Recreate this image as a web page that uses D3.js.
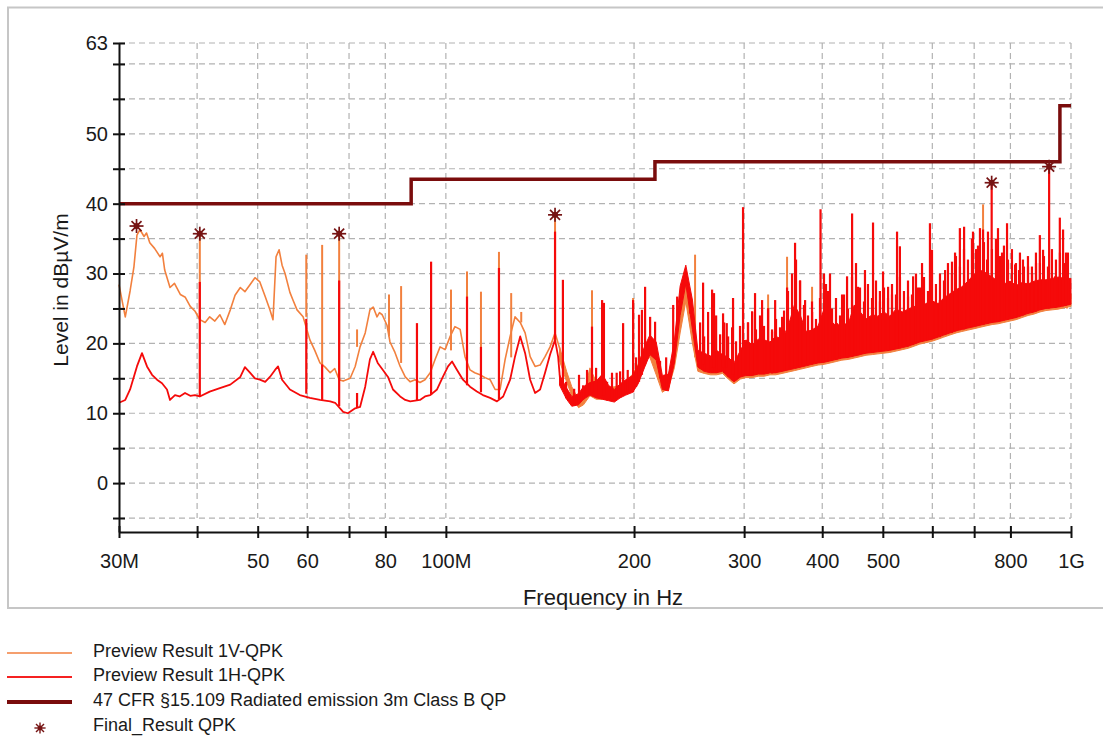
<!DOCTYPE html>
<html><head><meta charset="utf-8">
<script src="https://cdn.jsdelivr.net/npm/d3@7"></script>
<style>
html,body{margin:0;padding:0;background:#fff;}
svg{display:block;}
text{font-family:Arial,"Liberation Sans",sans-serif;fill:#1a1a1a;}
</style>
</head><body>
<svg id="c" width="1103" height="746"></svg>
<script>
// ---------- DATA ----------
const xTicks = [30,40,50,60,70,80,100,200,300,400,500,600,700,800,1000];
const xTickLabels = {30:"30M",50:"50",60:"60",80:"80",100:"100M",200:"200",300:"300",400:"400",500:"500",800:"800",1000:"1G"};
const yTicks = [-5,0,5,10,15,20,25,30,35,40,45,50,55,60,63];
const yTickLabels = [0,10,20,30,40,50,63];

// Vertical polarisation preview (MHz, dBµV/m), 30–152 MHz
const vTrace = [[30,28.4],[30.7,23.8],[31.25,27.5],[31.7,31.0],[32.05,35.5],[32.4,36.3],[32.9,35.3],[33.2,35.8],[33.6,34.4],[34.2,33.6],[34.9,32.4],[35.2,32.9],[35.5,30.5],[36.2,28.0],[36.8,28.6],[37.6,27.0],[38.3,26.6],[39.0,25.3],[39.7,24.6],[40.4,23.4],[41.2,23.0],[41.9,23.8],[42.7,23.2],[43.5,24.1],[44.3,22.7],[45.2,24.8],[46.0,26.9],[46.9,28.0],[47.7,27.4],[48.6,28.4],[49.5,29.4],[50.4,28.8],[51.4,26.7],[52.3,24.8],[52.9,23.4],[53.5,32.4],[54.1,33.4],[54.7,31.2],[55.3,30.0],[56.3,27.3],[57.0,26.1],[57.8,24.8],[59.1,23.8],[60.6,20.5],[61.7,19.0],[62.9,17.2],[64.1,16.6],[65.3,15.8],[66.4,16.4],[67.5,14.8],[68.5,14.6],[70.3,15.0],[71.6,16.7],[72.9,19.5],[74.3,21.5],[75.6,24.8],[76.5,25.2],[77.6,23.8],[78.3,24.4],[79.1,24.1],[80.5,22.6],[81.4,20.2],[82.9,18.7],[84.5,16.7],[86.1,15.2],[87.7,14.5],[89.3,14.8],[90.9,14.4],[92.6,14.8],[94.4,15.8],[96.1,17.7],[97.9,19.5],[99.7,19.1],[101.6,21.0],[103.4,22.4],[105.4,22.0],[107.3,18.1],[109.3,16.2],[111.2,15.8],[113.4,15.5],[115.5,15.1],[117.7,14.8],[119.9,13.4],[122.1,13.4],[124.4,17.7],[126.7,21.0],[129.0,23.8],[131.5,23.0],[133.9,21.5],[136.4,18.1],[138.9,16.7],[141.5,16.9],[144.1,18.1],[146.8,19.5],[149.5,21.5],[152.3,19.1]];

// Horizontal polarisation preview (MHz, dBµV/m), 30–152 MHz
const hTrace = [[30,11.5],[30.7,11.9],[31.25,13.4],[32.05,16.7],[32.65,18.6],[33.26,16.7],[33.88,15.5],[34.51,14.8],[35.15,14.3],[35.8,13.4],[36.2,11.9],[36.87,12.6],[37.5,12.4],[38.26,12.9],[39.0,12.5],[39.69,12.6],[40.4,12.4],[41.9,13.1],[43.5,13.6],[45.2,14.1],[46.9,15.2],[47.7,16.6],[48.6,15.8],[49.5,15.0],[50.4,14.8],[51.4,14.5],[52.3,15.2],[53.3,16.2],[53.9,16.7],[54.7,14.8],[56.3,13.4],[58.4,12.6],[60.6,12.2],[62.9,11.9],[65.3,11.7],[66.5,11.5],[68.5,10.2],[69.7,10.0],[71.6,10.7],[72.9,10.9],[74.3,13.8],[75.6,17.7],[76.5,18.8],[77.8,17.2],[79.3,16.2],[80.8,15.2],[82.3,13.4],[84.5,12.4],[86.1,11.9],[87.7,11.7],[90.9,11.9],[92.6,12.4],[94.4,12.6],[96.8,13.4],[98.9,15.2],[100.8,16.7],[102.3,17.4],[104.2,16.2],[106.5,14.8],[109.3,13.8],[112.1,13.1],[114.6,12.6],[117.7,12.2],[120.7,11.7],[123.5,12.4],[126.7,14.8],[129.0,18.1],[131.5,21.0],[133.9,18.6],[136.4,14.8],[138.9,12.9],[141.5,13.4],[144.1,15.8],[146.8,18.4],[149.5,20.5],[151.2,18.1],[152.3,14.8]];

// Dense region 152 MHz – 1 GHz: min / max envelope of each trace
const bandFreq = [152,156,159,163,166,170,174,178,182,186,190,194,199,203,208,212,217,222,227,232,237,242,248,253,259,265,271,277,283,289,296,302,309,316,323,330,337,345,353,361,369,377,385,394,403,412,421,430,440,450,460,470,481,491,502,513,525,537,549,561,573,586,599,613,626,640,655,669,684,700,715,731,748,764,781,799,817,835,854,873,892,912,933,954,975,1000];
const hBandLow = [14.0,12.0,11.0,11.2,12.0,12.6,12.2,12.0,11.8,11.6,12.2,12.6,13.0,14.2,16.6,18.4,17.6,13.4,13.2,17.2,24.0,28.5,22.0,16.6,16.0,15.8,15.8,16.0,15.2,14.5,15.2,15.4,15.4,15.6,15.6,15.8,15.8,16.0,16.2,16.4,16.6,16.8,17.0,17.2,17.3,17.5,17.7,17.9,18.0,18.2,18.4,18.6,18.7,18.8,18.9,19.0,19.2,19.4,19.6,19.9,20.2,20.4,20.6,20.9,21.2,21.5,21.8,22.0,22.2,22.4,22.6,22.8,23.0,23.1,23.3,23.5,23.7,24.0,24.3,24.5,24.8,25.0,25.1,25.2,25.4,25.6];
const hBandHigh = [15.5,13.6,12.4,12.8,13.8,14.4,14.6,15.6,14.0,13.4,14.2,14.8,15.4,16.8,19.6,21.2,20.2,15.4,15.6,20.4,28.2,31.2,26.2,19.0,18.6,18.2,19.0,18.4,18.0,17.2,19.0,20.5,19.8,20.6,20.5,20.2,21.0,20.6,22.5,25.5,24.0,21.7,21.9,22.5,25.0,23.3,22.5,22.9,22.7,25.5,24.5,23.5,24.1,23.9,24.5,23.9,24.9,24.5,24.9,25.3,25.1,25.7,26.1,25.7,26.5,27.1,27.7,28.1,28.9,29.9,30.5,30.1,29.5,28.9,28.5,28.9,28.3,28.7,28.5,28.9,29.1,29.1,29.3,29.5,29.3,29.3];
const vBandLow = [17.5,14.5,12.5,10.8,11.2,12.5,12.0,12.0,12.0,12.2,12.6,13.0,13.6,15.0,17.5,18.0,15.5,13.0,13.6,16.5,21.5,26.0,20.0,16.0,15.7,15.5,15.5,15.7,14.9,14.2,14.9,15.1,15.1,15.3,15.3,15.5,15.5,15.7,15.9,16.1,16.3,16.5,16.7,16.9,17.0,17.2,17.4,17.6,17.7,17.9,18.1,18.3,18.4,18.5,18.6,18.7,18.9,19.1,19.3,19.6,19.9,20.1,20.3,20.6,20.9,21.2,21.5,21.7,21.9,22.1,22.3,22.5,22.7,22.8,23.0,23.2,23.4,23.7,24.0,24.2,24.5,24.7,24.8,24.9,25.1,25.3];
const vBandHigh = [19.5,16.0,13.8,12.0,12.4,16.5,14.5,14.0,13.6,13.8,14.0,14.6,15.6,17.0,19.5,20.0,17.5,14.6,15.4,18.5,24.0,28.5,23.0,17.5,17.0,17.0,17.5,17.2,16.6,16.0,16.7,16.9,16.9,17.1,17.1,17.3,17.3,17.5,17.7,17.9,18.1,18.3,18.5,18.7,18.8,19.0,19.2,19.4,19.5,19.7,19.9,20.1,20.2,20.3,20.4,20.5,20.7,20.9,21.1,21.4,21.7,21.9,22.1,22.4,22.7,23.0,23.3,23.5,23.7,23.9,24.1,24.3,24.5,24.6,24.8,25.0,25.2,25.5,25.8,26.0,26.3,26.5,26.6,26.7,26.9,27.1];

// Dense short emissions over the band (MHz, peak dBµV/m)
const hDenseFreq = [155.7,160.4,165.8,173.9,181.1,190.0,201.5,220.1,225.1,245.9,255.1,258.9,262.7,266.6,270.6,274.6,278.7,282.8,287.0,291.2,295.5,299.9,304.3,308.9,313.4,318.1,322.8,327.6,332.5,337.4,342.4,347.5,352.6,357.9,363.2,368.6,374.0,379.6,385.2,390.9,396.7,402.6,408.6,414.7,420.8,427.1,433.4,439.8,446.3,453.0,459.7,466.5,473.4,480.5,487.6,494.8,502.2,509.6,517.2,524.8,532.6,540.5,548.6,556.7,565.0,573.3,581.9,590.5,599.2,608.1,617.2,626.3,635.6,645.0,654.6,664.3,674.2,684.2,694.3,704.6,715.1,725.7,736.5,747.4,758.5,769.7,781.2,792.8,804.5,816.5,828.6,840.9,853.4,866.0,878.9,891.9,905.2,918.6,932.2,946.1,960.1,974.3,988.8];
const hDenseTop = [14.5,13.5,14.0,16.5,14.5,16.0,18.0,17.5,18.0,27.0,23.0,21.0,24.5,22.0,24.0,21.3,23.0,21.0,22.3,20.3,22.5,20.5,23.0,24.5,22.0,24.0,22.5,25.0,21.7,23.5,22.3,24.7,27.5,30.0,32.0,29.0,25.5,24.0,26.0,23.5,26.5,30.0,27.5,25.0,26.5,24.0,27.0,25.0,29.5,31.5,28.0,26.0,28.5,26.5,29.0,26.0,28.0,26.5,28.5,27.0,29.5,27.5,29.0,27.0,30.0,28.0,29.5,27.5,30.5,28.5,30.0,29.0,31.5,30.0,32.5,31.0,33.5,32.0,35.0,33.5,36.5,34.5,36.0,33.5,35.0,32.5,34.0,32.0,33.5,31.5,33.0,31.0,32.5,31.0,33.0,31.5,32.5,31.0,33.5,32.0,33.0,31.5,33.0];

// Narrow-band spikes: [MHz, base level, peak level]
const hSpikes = [[40.4,12.4,28.8],[59.8,12.8,23.5],[63.4,11.9,17.0],[67.5,11.0,29.0],[72.1,10.8,12.9],[89.9,11.8,22.9],[94.7,12.6,31.7],[108.1,14.0,26.7],[113.8,13.0,19.5],[121.6,12.0,30.8],[149.5,20.5,36.0],[153.9,13.5,29.1],[163.3,11.5,15.5],[168.2,12.5,16.2],[171.3,13.0,22.4],[177.8,12.5,26.2],[179.0,12.5,25.8],[184.4,12.0,15.8],[187.6,12.0,15.8],[192.1,12.5,22.9],[195.4,12.8,16.2],[199.3,13.0,26.2],[203.7,14.5,24.1],[205.9,15.5,24.8],[208.3,17.0,28.1],[212.2,19.0,23.8],[216.1,18.5,23.1],[231.0,17.0,25.5],[234.4,22.0,26.7],[257.9,17.0,28.7],[266.6,16.5,27.7],[268.5,16.5,27.2],[277.6,16.5,24.3],[281.4,16.5,22.9],[288.0,15.5,26.5],[298.8,15.5,39.5],[304.3,15.5,23.0],[308.9,15.5,24.6],[312.3,15.5,27.2],[320.5,15.6,26.2],[327.7,15.7,25.0],[332.5,15.7,22.0],[336.3,15.8,26.2],[345.0,16.0,23.8],[351.4,16.2,28.0],[361.9,16.5,34.4],[368.6,16.6,29.0],[375.5,16.8,26.2],[385.3,17.0,24.5],[397.5,17.2,39.2],[405.6,17.4,28.5],[411.6,17.5,30.0],[422.4,17.7,22.9],[430.3,17.9,27.0],[438.3,18.0,29.6],[446.5,18.1,38.6],[456.4,18.3,28.1],[468.2,18.6,30.5],[482.3,18.7,37.3],[494.7,18.8,27.5],[500.4,18.9,30.3],[509.8,19.0,28.1],[517.2,19.1,27.0],[526.9,19.2,36.0],[532.5,19.3,33.9],[548.7,19.6,26.7],[559.0,19.8,29.6],[569.2,20.1,28.0],[577.7,20.2,31.5],[594.8,20.5,37.2],[599.3,20.6,33.4],[617.0,20.9,26.2],[628.9,21.2,30.5],[645.1,21.5,31.7],[652.4,21.7,33.0],[664.1,21.9,36.5],[674.5,22.0,36.7],[697.0,22.4,36.0],[709.9,22.5,34.0],[723.3,22.7,36.3],[734.1,22.8,32.0],[746.6,23.0,43.0],[764.2,23.1,36.5],[775.6,23.2,33.0],[790.1,23.4,37.2],[813.9,23.7,31.3],[825.8,23.9,30.5],[837.9,24.0,32.0],[853.6,24.3,31.0],[866.4,24.4,30.0],[879.2,24.6,31.5],[891.6,24.8,35.5],[902.2,24.9,33.4],[922.6,25.0,45.3],[943.1,25.1,29.6],[959.7,25.2,38.0],[971.2,25.3,36.3],[981.8,25.4,33.0]];
const vSpikes = [[40.4,23.4,35.7],[59.8,23.8,32.7],[63.4,17.0,34.1],[67.5,14.8,35.7],[72.1,19.5,22.0],[81.1,21.0,27.0],[84.8,17.2,28.2],[101.9,19.0,27.7],[108.1,17.0,30.3],[113.8,15.0,27.4],[121.6,13.5,33.1],[127.2,18.0,27.2],[132.0,23.0,24.5],[149.5,21.5,38.4],[171.3,15.0,27.6],[199.3,14.0,26.5],[250.4,18.0,32.7],[327.7,15.5,27.0],[351.4,16.0,32.4],[385.3,16.8,28.1],[723.3,22.5,39.9],[985.0,25.0,32.4]];

// Limit line (47 CFR §15.109 Class B QP, 3 m)
const limitLine = [[30,40],[88,40],[88,43.5],[216,43.5],[216,46],[960,46],[960,54],[1000,54]];
// Final quasi-peak results
const finalResults = [[32.0,36.8],[40.4,35.7],[67.5,35.7],[149.5,38.4],[746.6,43.0],[922.6,45.3]];

const legendItems = ["Preview Result 1V-QPK","Preview Result 1H-QPK","47 CFR §15.109 Radiated emission 3m Class B QP","Final_Result QPK"];

// ---------- STYLE ----------
const C_V = "#f2803e", C_H = "#f50a0a", C_LIM = "#7a0c0c", C_STAR = "#761414", C_GRID = "#b2b2b2";

// ---------- CHART ----------
const svg = d3.select("#c");
const x = d3.scaleLog().domain([30,1000]).range([119,1071]);
const y = d3.scaleLinear().domain([-7,63]).range([532,43]);

svg.append("rect").attr("x",8).attr("y",7.5).attr("width",1100).attr("height",600.5)
  .attr("fill","none").attr("stroke","#c6c6c6").attr("stroke-width",2);

// grid
const grid = svg.append("g").attr("stroke",C_GRID).attr("stroke-width",1.2).attr("stroke-dasharray","6,4");
grid.selectAll("line.h").data(yTicks).join("line").attr("class","h")
  .attr("x1",x(30)).attr("x2",x(1000)).attr("y1",d=>y(d)).attr("y2",d=>y(d));
grid.selectAll("line.v").data(xTicks.filter(d=>d>30)).join("line").attr("class","v")
  .attr("x1",d=>x(d)).attr("x2",d=>x(d)).attr("y1",y(63)).attr("y2",y(-5));

const line = d3.line().x(d=>x(d[0])).y(d=>y(d[1]));
const band = (lo,hi)=> d3.area().x((d,i)=>x(bandFreq[i])).y0((d,i)=>y(lo[i])).y1((d,i)=>y(hi[i]))(bandFreq);
// floor of the H trace at a given frequency (for drawing emissions down to the trace)
function floorAt(f){
  const i = d3.bisectLeft(bandFreq, f);
  if(i<=0) return hBandLow[0];
  if(i>=bandFreq.length) return hBandLow[bandFreq.length-1];
  const t = (Math.log(f)-Math.log(bandFreq[i-1]))/(Math.log(bandFreq[i])-Math.log(bandFreq[i-1]));
  return hBandLow[i-1] + t*(hBandLow[i]-hBandLow[i-1]);
}

// V trace
const gv = svg.append("g");
gv.append("path").attr("d",band(vBandLow,vBandHigh)).attr("fill",C_V).attr("stroke",C_V).attr("stroke-width",1);
gv.append("path").attr("d",line(vTrace)).attr("fill","none").attr("stroke",C_V).attr("stroke-width",1.6).attr("stroke-linejoin","round");
gv.selectAll("line").data(vSpikes).join("line")
  .attr("x1",d=>x(d[0])).attr("x2",d=>x(d[0])).attr("y1",d=>y(d[1])).attr("y2",d=>y(d[2]))
  .attr("stroke",C_V).attr("stroke-width",2);

// H trace
const gh = svg.append("g");
gh.append("path").attr("d",band(hBandLow,hBandHigh)).attr("fill",C_H).attr("stroke",C_H).attr("stroke-width",1);
gh.append("path").attr("d",line(hTrace)).attr("fill","none").attr("stroke",C_H).attr("stroke-width",1.8).attr("stroke-linejoin","round");
gh.append("g").selectAll("line").data(hDenseFreq).join("line")
  .attr("x1",d=>x(d)).attr("x2",d=>x(d)).attr("y1",d=>y(floorAt(d))).attr("y2",(d,i)=>y(hDenseTop[i]))
  .attr("stroke",C_H).attr("stroke-width",2.2);
gh.append("g").selectAll("line").data(hSpikes).join("line")
  .attr("x1",d=>x(d[0])).attr("x2",d=>x(d[0])).attr("y1",d=>y(d[1])).attr("y2",d=>y(d[2]))
  .attr("stroke",C_H).attr("stroke-width",2.2);

// limit
svg.append("path").attr("d",line(limitLine)).attr("fill","none").attr("stroke",C_LIM).attr("stroke-width",3.5);

// star marker
function star(g){
  g.append("circle").attr("r",3).attr("fill",C_STAR);
  [[0,7],[7,0],[5,5],[5,-5]].forEach(([dx,dy])=>{
    g.append("line").attr("x1",-dx).attr("y1",-dy).attr("x2",dx).attr("y2",dy)
      .attr("stroke",C_STAR).attr("stroke-width",1.7);
  });
}
svg.append("g").selectAll("g").data(finalResults).join("g")
  .attr("transform",d=>`translate(${x(d[0])},${y(d[1])})`).each(function(){star(d3.select(this));});

// axes
const yAxis = d3.axisLeft(y).tickValues(yTicks).tickFormat(d=>yTickLabels.includes(d)?String(d):"")
  .tickSize(6).tickSizeOuter(0).tickPadding(5);
const ya = svg.append("g").attr("transform",`translate(${x(30)},0)`).call(yAxis);
ya.selectAll(".tick line").clone().attr("x2",6);
const xAxis = d3.axisBottom(x).tickValues(xTicks).tickFormat(d=>xTickLabels[d]||"")
  .tickSize(6).tickSizeOuter(0).tickPadding(16);
const xa = svg.append("g").attr("transform",`translate(0,${y(-7)})`).call(xAxis);
xa.selectAll(".tick line").clone().attr("y2",-6);
[ya,xa].forEach(a=>{
  a.select(".domain").attr("stroke","#111").attr("stroke-width",2);
  a.selectAll(".tick line").attr("stroke","#111").attr("stroke-width",2);
  a.selectAll(".tick text").attr("font-size",20).attr("fill","#1a1a1a")
    .attr("font-family",'Arial,"Liberation Sans",sans-serif');
});

svg.append("text").attr("x",603).attr("y",605).attr("text-anchor","middle").attr("font-size",22).text("Frequency in Hz");
svg.append("text").attr("transform","translate(68,290) rotate(-90)").attr("text-anchor","middle").attr("font-size",21).text("Level in dBµV/m");

// legend
const lg = svg.append("g");
const rowY = [651,675,700,725];
lg.selectAll("text").data(legendItems).join("text").attr("x",93).attr("y",(d,i)=>rowY[i]+6)
  .attr("font-size",18).text(d=>d);
const legStyles = [[C_V,2,0.75],[C_H,2,0.9],[C_LIM,4,1]];
legStyles.forEach(([c,w,o],i)=>{
  lg.append("line").attr("x1",7).attr("x2",72).attr("y1",rowY[i]+2).attr("y2",rowY[i]+2)
    .attr("stroke",c).attr("stroke-width",w).attr("opacity",o);
});
const ls = lg.append("g").attr("transform",`translate(40,${rowY[3]+3}) scale(0.8)`);
star(ls);
</script>
</body></html>
